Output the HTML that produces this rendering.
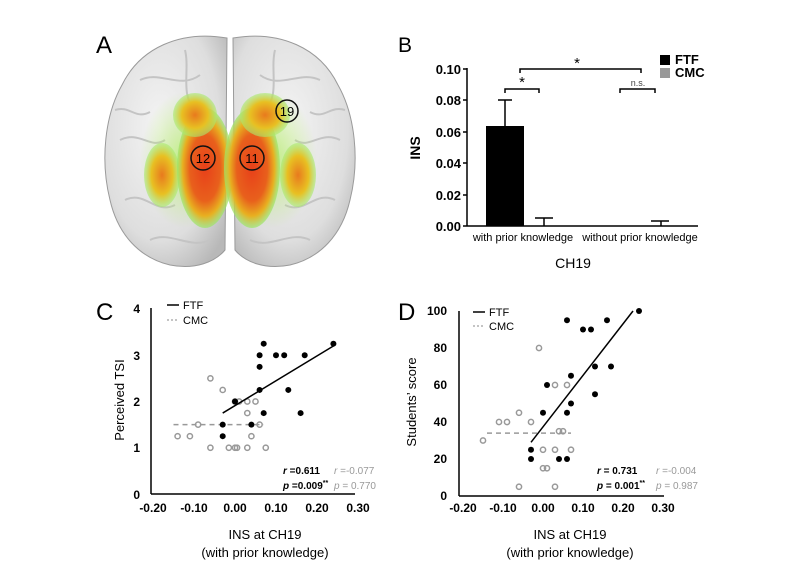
<!DOCTYPE html>
<html><head><meta charset="utf-8"><style>
body{margin:0;background:#fff;}
svg{display:block;font-family:"Liberation Sans",Arial,sans-serif;}
.b{font-weight:bold}
</style></head><body>
<svg id="s" width="799" height="584" viewBox="0 0 799 584" xmlns="http://www.w3.org/2000/svg">
<defs>
<radialGradient id="gl" cx="0.45" cy="0.4" r="0.7"><stop offset="0" stop-color="#f4f4f4"/><stop offset="0.7" stop-color="#dedede"/><stop offset="1" stop-color="#b8b8b8"/></radialGradient>
<radialGradient id="hot" cx="0.5" cy="0.5" r="0.5"><stop offset="0" stop-color="#e8401a"/><stop offset="0.55" stop-color="#e8601c"/><stop offset="0.8" stop-color="#e8b020"/><stop offset="1" stop-color="#9be66a" stop-opacity="0.7"/></radialGradient>
<radialGradient id="warm" cx="0.5" cy="0.5" r="0.5"><stop offset="0" stop-color="#e87a1e"/><stop offset="0.6" stop-color="#e8c022"/><stop offset="1" stop-color="#a8ea70" stop-opacity="0.6"/></radialGradient>
<radialGradient id="grn" cx="0.5" cy="0.5" r="0.5"><stop offset="0" stop-color="#b6ee6a" stop-opacity="0.8"/><stop offset="1" stop-color="#b6ee6a" stop-opacity="0"/></radialGradient>
</defs>
<!-- Panel A brain -->
<text x="96" y="53" font-size="24">A</text>
<path d="M227,38 C180,30 140,48 122,85 C105,115 100,160 110,200 C118,235 140,258 170,265 C195,270 215,262 225,250 Z" fill="url(#gl)" stroke="#9a9a9a"/>
<path d="M233,38 C280,30 320,48 338,85 C355,115 360,160 350,200 C342,235 320,258 290,265 C265,270 245,262 235,250 Z" fill="url(#gl)" stroke="#9a9a9a"/>
<g fill="none" stroke="#c4c4c4" stroke-width="2">
<path d="M140,80 C160,70 180,90 200,75"/><path d="M120,140 C140,130 150,150 165,140"/><path d="M125,200 C145,190 155,215 175,205"/><path d="M150,240 C170,230 190,250 210,240"/>
<path d="M320,80 C300,70 280,90 260,75"/><path d="M340,140 C320,130 310,150 295,140"/><path d="M335,200 C315,190 305,215 285,205"/><path d="M310,240 C290,230 270,250 250,240"/>
<path d="M185,50 C190,70 180,95 195,110"/><path d="M275,50 C270,70 280,95 265,110"/>
<path d="M115,110 C130,105 135,120 150,112"/><path d="M345,110 C330,105 325,120 310,112"/>
</g>
<ellipse cx="185" cy="160" rx="45" ry="68" fill="url(#grn)"/>
<ellipse cx="272" cy="160" rx="45" ry="68" fill="url(#grn)"/>
<ellipse cx="162" cy="175" rx="18" ry="32" fill="url(#warm)"/>
<ellipse cx="205" cy="168" rx="28" ry="60" fill="url(#hot)"/>
<ellipse cx="195" cy="115" rx="22" ry="22" fill="url(#warm)"/>
<ellipse cx="298" cy="175" rx="18" ry="32" fill="url(#warm)"/>
<ellipse cx="252" cy="168" rx="28" ry="60" fill="url(#hot)"/>
<ellipse cx="265" cy="115" rx="25" ry="22" fill="url(#warm)"/>
<g fill="none" stroke="#111" stroke-width="1.5">
<circle cx="203" cy="158" r="12"/><circle cx="252" cy="158" r="12"/><circle cx="287" cy="111" r="11"/></g>
<g font-size="13" text-anchor="middle"><text x="203" y="163">12</text><text x="252" y="163">11</text><text x="287" y="116">19</text></g>

<!-- Panel B -->
<text x="398" y="52" font-size="21">B</text>
<g stroke="#000" stroke-width="1.5" fill="none">
<line x1="467" y1="68" x2="467" y2="226"/><line x1="467" y1="226" x2="698" y2="226"/>
<path d="M463,69H467M463,100H467M463,132H467M463,163H467M463,195H467M463,226H467"/>
<path d="M505,93V89H539V93M620,93V89H655V93M520,73V69H641V73"/>
<path d="M505,100V126M498,100H512"/><path d="M544,226V218M535,218H553"/><path d="M661,226V221M651,221H669"/>
</g>
<rect x="486" y="126" width="38" height="100" fill="#000"/>
<g font-size="13" class="b" text-anchor="end">
<text x="461" y="74">0.10</text><text x="461" y="105">0.08</text><text x="461" y="137">0.06</text><text x="461" y="168">0.04</text><text x="461" y="200">0.02</text><text x="461" y="231">0.00</text></g>
<text x="420" y="148" font-size="14" class="b" text-anchor="middle" transform="rotate(-90 420 148)">INS</text>
<text x="522" y="87" font-size="15" text-anchor="middle">*</text>
<text x="577" y="68" font-size="15" text-anchor="middle">*</text>
<text x="638" y="86" font-size="9" fill="#444" text-anchor="middle">n.s.</text>
<rect x="660" y="55" width="10" height="10" fill="#000"/><rect x="660" y="68" width="10" height="10" fill="#999"/>
<text x="675" y="64" font-size="13" class="b">FTF</text><text x="675" y="77" font-size="13" class="b">CMC</text>
<text x="523" y="241" font-size="11" text-anchor="middle">with prior knowledge</text>
<text x="640" y="241" font-size="11" text-anchor="middle">without prior knowledge</text>
<text x="573" y="268" font-size="14" text-anchor="middle">CH19</text>

<!-- Panel C -->
<text x="96" y="320" font-size="24">C</text>
<g stroke="#000" stroke-width="1.5" fill="none"><line x1="151" y1="308" x2="151" y2="494"/><line x1="151" y1="494" x2="355" y2="494"/></g>
<g font-size="12" class="b" text-anchor="end"><text x="140" y="313">4</text><text x="140" y="360">3</text><text x="140" y="406">2</text><text x="140" y="452">1</text><text x="140" y="499">0</text></g>
<g font-size="12" class="b" text-anchor="middle"><text x="153" y="512">-0.20</text><text x="194" y="512">-0.10</text><text x="235" y="512">0.00</text><text x="276" y="512">0.10</text><text x="317" y="512">0.20</text><text x="358" y="512">0.30</text></g>
<text x="265" y="539" font-size="13" text-anchor="middle">INS at CH19</text><text x="265" y="557" font-size="13" text-anchor="middle">(with prior knowledge)</text>
<text x="124" y="400" font-size="13" text-anchor="middle" transform="rotate(-90 124 400)">Perceived TSI</text>
<line x1="167" y1="305" x2="179" y2="305" stroke="#000" stroke-width="1.5"/><line x1="167" y1="320" x2="179" y2="320" stroke="#888" stroke-dasharray="2,2"/>
<text x="183" y="309" font-size="11">FTF</text><text x="183" y="324" font-size="11">CMC</text>
<text x="283" y="474" font-size="10" class="b"><tspan font-style="italic">r</tspan> =0.611</text>
<text x="283" y="489" font-size="10" class="b"><tspan font-style="italic">p</tspan> =0.009<tspan font-size="7" dy="-4">**</tspan></text>
<text x="334" y="474" font-size="10" fill="#999"><tspan font-style="italic">r</tspan> =-0.077</text>
<text x="334" y="489" font-size="10" fill="#999"><tspan font-style="italic">p</tspan> = 0.770</text>

<!-- Panel D -->
<text x="398" y="320" font-size="24">D</text>
<g stroke="#000" stroke-width="1.5" fill="none"><line x1="459" y1="311" x2="459" y2="496"/><line x1="459" y1="496" x2="664" y2="496"/></g>
<g font-size="12" class="b" text-anchor="end"><text x="447" y="315">100</text><text x="447" y="352">80</text><text x="447" y="389">60</text><text x="447" y="426">40</text><text x="447" y="463">20</text><text x="447" y="500">0</text></g>
<g font-size="12" class="b" text-anchor="middle"><text x="463" y="512">-0.20</text><text x="503" y="512">-0.10</text><text x="543" y="512">0.00</text><text x="583" y="512">0.10</text><text x="623" y="512">0.20</text><text x="663" y="512">0.30</text></g>
<text x="570" y="539" font-size="13" text-anchor="middle">INS at CH19</text><text x="570" y="557" font-size="13" text-anchor="middle">(with prior knowledge)</text>
<text x="416" y="402" font-size="13" text-anchor="middle" transform="rotate(-90 416 402)">Students’ score</text>
<line x1="473" y1="312" x2="485" y2="312" stroke="#000" stroke-width="1.5"/><line x1="473" y1="326" x2="485" y2="326" stroke="#888" stroke-dasharray="2,2"/>
<text x="489" y="316" font-size="11">FTF</text><text x="489" y="330" font-size="11">CMC</text>
<text x="597" y="474" font-size="10" class="b"><tspan font-style="italic">r</tspan> = 0.731</text>
<text x="597" y="489" font-size="10" class="b"><tspan font-style="italic">p</tspan> = 0.001<tspan font-size="7" dy="-4">**</tspan></text>
<text x="656" y="474" font-size="10" fill="#999"><tspan font-style="italic">r</tspan> =-0.004</text>
<text x="656" y="489" font-size="10" fill="#999"><tspan font-style="italic">p</tspan> = 0.987</text>
<g id="pts"></g>
</svg>
<script>
var g=document.getElementById('pts'),NS='http://www.w3.org/2000/svg';
function el(n,a){var e=document.createElementNS(NS,n);for(var k in a)e.setAttribute(k,a[k]);g.appendChild(e);}
function plot(mx,my,ftf,cmc,fl,cl){
 el('line',{x1:mx(cl[0]),y1:my(cl[1]),x2:mx(cl[2]),y2:my(cl[3]),stroke:'#999','stroke-width':1.5,'stroke-dasharray':'5,4'});
 cmc.forEach(function(p){el('circle',{cx:mx(p[0]),cy:my(p[1]),r:2.6,fill:'none',stroke:'#999','stroke-width':1.5});});
 ftf.forEach(function(p){el('circle',{cx:mx(p[0]),cy:my(p[1]),r:3,fill:'#000'});});
 el('line',{x1:mx(fl[0]),y1:my(fl[1]),x2:mx(fl[2]),y2:my(fl[3]),stroke:'#000','stroke-width':1.5});
}
plot(function(x){return 235+x*410},function(y){return 494-y*46.25},
[[0.07,3.25],[0.06,3],[0.1,3],[0.12,3],[0.17,3],[0.24,3.25],[0.06,2.75],[0.06,2.25],[0.13,2.25],[0,2],[0.07,1.75],[0.16,1.75],[-0.03,1.5],[0.04,1.5],[-0.03,1.25]],
[[-0.06,2.5],[-0.03,2.25],[0,2],[0.01,2],[0.03,2],[0.05,2],[0.03,1.75],[-0.09,1.5],[0.06,1.5],[-0.14,1.25],[-0.11,1.25],[0.04,1.25],[-0.06,1],[-0.015,1],[0,1],[0.005,1],[0.03,1],[0.075,1]],
[-0.03,1.75,0.24,3.2],[-0.15,1.5,0.07,1.5]);
plot(function(x){return 543+x*400},function(y){return 496-y*1.85},
[[0.24,100],[0.06,95],[0.1,90],[0.12,90],[0.16,95],[0.13,70],[0.17,70],[0.07,65],[0.01,60],[0.13,55],[0.07,50],[0,45],[0.06,45],[-0.03,25],[-0.03,20],[0.04,20],[0.06,20]],
[[-0.01,80],[0.03,60],[0.06,60],[-0.06,45],[-0.11,40],[-0.09,40],[-0.03,40],[0.04,35],[0.05,35],[-0.15,30],[0,25],[0.03,25],[0.07,25],[0,15],[0.01,15],[-0.06,5],[0.03,5]],
[-0.03,29,0.225,100],[-0.14,34,0.07,34]);
</script>
</body></html>
